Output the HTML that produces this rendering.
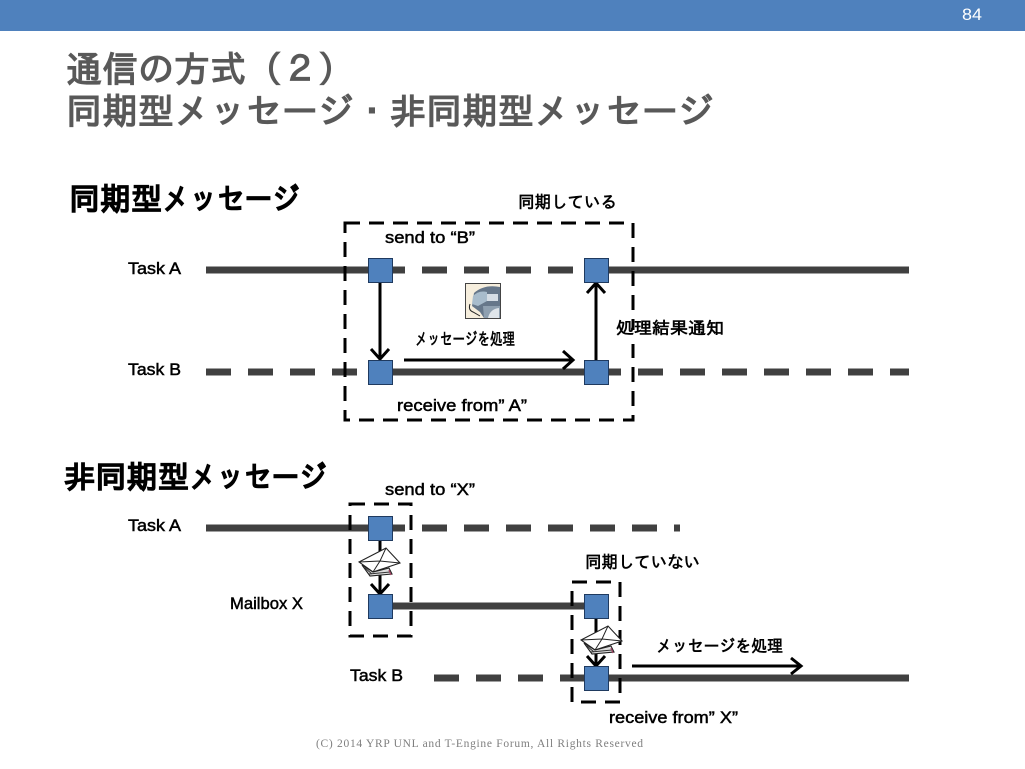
<!DOCTYPE html>
<html lang="ja">
<head>
<meta charset="utf-8">
<style>
html,body{margin:0;padding:0;background:#fff;width:1025px;height:769px;overflow:hidden}
svg{display:block}
text{font-family:"Liberation Sans","IPAGothic","Noto Sans CJK JP",sans-serif}
.t{font-family:"IPAGothic","Noto Sans CJK JP",sans-serif;fill:#595959;stroke:#595959;stroke-width:1.3;font-size:36px}
.h{font-family:"IPAGothic","Noto Sans CJK JP",sans-serif;fill:#000;stroke:#000;stroke-width:1.6;font-size:31px}
.l{font-size:17px;fill:#000;stroke:#000;stroke-width:.5}
.j{font-family:"IPAGothic","Noto Sans CJK JP",sans-serif;font-size:17px;fill:#000;stroke:#000;stroke-width:.6}
.d{stroke:#404040;stroke-width:7;fill:none}
.b{fill:#4f81bd;stroke:#1f3a5f;stroke-width:1}
.a{stroke:#000;stroke-width:3;fill:none}
.x{stroke:#000;stroke-width:3;fill:none;stroke-dasharray:15 9}
</style>
</head>
<body>
<svg width="1025" height="769" viewBox="0 0 1025 769" xmlns="http://www.w3.org/2000/svg">
<defs>
<g id="env">
<path d="M-20,3 L7,-11 L21,4 L-6,13Z" fill="#fff" stroke="#222" stroke-width="1.100"/>
<path d="M-20,3 L1,2 L7,-11 M1,2 L21,4 M-6,13 L1,2" fill="none" stroke="#222" stroke-width="1"/>
<path d="M-17,6 L-9,17 L13,15 L10,9 L-6,13Z" fill="#ddd" stroke="#222" stroke-width="1.100"/>
<path d="M-14,9 L-7,15 M-10,15 L11,13" fill="none" stroke="#333" stroke-width="1"/>
<path d="M10,11 L12,16" fill="none" stroke="#a04060" stroke-width="1.200"/>
</g>
</defs>
<rect x="0" y="0" width="1025" height="31" fill="#4f81bd"/>
<text x="962" y="20" font-size="17" fill="#fff" textLength="20" lengthAdjust="spacingAndGlyphs">84</text>
<text class="t" x="66" y="82">通信の方式（２）</text>
<text class="t" x="66" y="124">同期型メッセージ・非同期型メッセージ</text>
<text class="h" x="69" y="210" textLength="93" lengthAdjust="spacingAndGlyphs">同期型</text>
<text class="h" x="162" y="210" textLength="138" lengthAdjust="spacingAndGlyphs">メッセージ</text>
<text class="h" x="64" y="488" textLength="125" lengthAdjust="spacingAndGlyphs">非同期型</text>
<text class="h" x="189" y="488" textLength="138" lengthAdjust="spacingAndGlyphs">メッセージ</text>

<!-- upper timelines -->
<path class="d" d="M206,270H405M422,270H447M464,270H489M506,270H531M548,270H573M597,270H909"/>
<path class="d" d="M206,372H231M248,372H273M290,372H315M332,372H357M380,372H597M597,372H621M638,372H663M680,372H705M722,372H747M764,372H789M806,372H831M848,372H873M890,372H909"/>
<rect class="x" x="345" y="223" width="288" height="197"/>
<rect x="627" y="330" width="12" height="14" fill="#fff"/>
<path class="a" d="M380,282V358M371,349L380,359L389,349"/>
<path class="a" d="M596,360V284M587,293L596,283L605,293"/>
<path class="a" d="M404,360H572M563,351L573,360L563,369"/>
<rect class="b" x="368.500" y="258.500" width="24" height="24"/>
<rect class="b" x="584.500" y="258.500" width="24" height="24"/>
<rect class="b" x="368.500" y="360.500" width="24" height="24"/>
<rect class="b" x="584.500" y="360.500" width="24" height="24"/>
<!-- robot icon -->
<g>
<rect x="465.500" y="283.500" width="35" height="35" fill="#f6eedd" stroke="#444" stroke-width="1"/>
<path d="M474,293 Q484,284 500,287 V318 H484 L480,312 L472,306Z" fill="#66778a"/>
<path d="M473,296 Q479,290 487,292 L487,301 L478,306 L472,304Z" fill="#a8bccc"/>
<path d="M487,294 H498 V301 H487Z" fill="#d5dde5"/>
<path d="M483,306 H500 V318 H484Z" fill="#8fa0b0"/>
<path d="M488,318 Q490,309 499,308 V318Z" fill="#dfe5ea"/>
<path d="M470,304 Q468,310 473,312 L480,316" stroke="#222" stroke-width="1" fill="none"/>
</g>
<text class="l" x="385" y="243" textLength="90" lengthAdjust="spacingAndGlyphs">send to “B”</text>
<text class="l" x="397" y="411" textLength="130" lengthAdjust="spacingAndGlyphs">receive from” A”</text>
<text class="j" x="415" y="345" textLength="100" lengthAdjust="spacingAndGlyphs">メッセージを処理</text>
<text class="j" x="518" y="208" textLength="99" lengthAdjust="spacingAndGlyphs">同期している</text>
<text class="j" x="616" y="334" textLength="108" lengthAdjust="spacingAndGlyphs">処理結果通知</text>
<text class="l" x="128" y="274" textLength="53" lengthAdjust="spacingAndGlyphs">Task A</text>
<text class="l" x="128" y="375" textLength="53" lengthAdjust="spacingAndGlyphs">Task B</text>

<!-- lower timelines -->
<path class="d" d="M206,528H405M422,528H447M464,528H489M506,528H531M548,528H573M590,528H615M632,528H657M674,528H680"/>
<path class="d" d="M380,606H597"/>
<path class="d" d="M434,678H459M476,678H501M518,678H543M560,678H909"/>
<rect class="x" x="350" y="504" width="61" height="132"/>
<rect class="x" x="572" y="582" width="48" height="120"/>
<path class="a" d="M380,540V592M371,584L380,594L389,584"/>
<path class="a" d="M596,618V664M587,656L596,666L605,656"/>
<path class="a" d="M632,666H800M791,658L801,666L791,674"/>
<use href="#env" x="379" y="559"/>
<use href="#env" x="601" y="637"/>
<rect class="b" x="368.500" y="516.500" width="24" height="24"/>
<rect class="b" x="368.500" y="594.500" width="24" height="24"/>
<rect class="b" x="584.500" y="594.500" width="24" height="24"/>
<rect class="b" x="584.500" y="666.500" width="24" height="24"/>
<text class="l" x="385" y="495" textLength="90" lengthAdjust="spacingAndGlyphs">send to “X”</text>
<text class="l" x="128" y="531" textLength="53" lengthAdjust="spacingAndGlyphs">Task A</text>
<text class="l" x="230" y="609" textLength="73" lengthAdjust="spacingAndGlyphs">Mailbox X</text>
<text class="l" x="350" y="681" textLength="53" lengthAdjust="spacingAndGlyphs">Task B</text>
<text class="l" x="609" y="723" textLength="129" lengthAdjust="spacingAndGlyphs">receive from” X”</text>
<text class="j" x="585" y="568" textLength="115" lengthAdjust="spacingAndGlyphs">同期していない</text>
<text class="j" x="656" y="652" textLength="127" lengthAdjust="spacingAndGlyphs">メッセージを処理</text>
<text x="316" y="747" font-size="11.500" fill="#7f7f7f" style="font-family:'Liberation Serif',serif" textLength="327">(C) 2014 YRP UNL and T-Engine Forum, All Rights Reserved</text>
</svg>
</body>
</html>
